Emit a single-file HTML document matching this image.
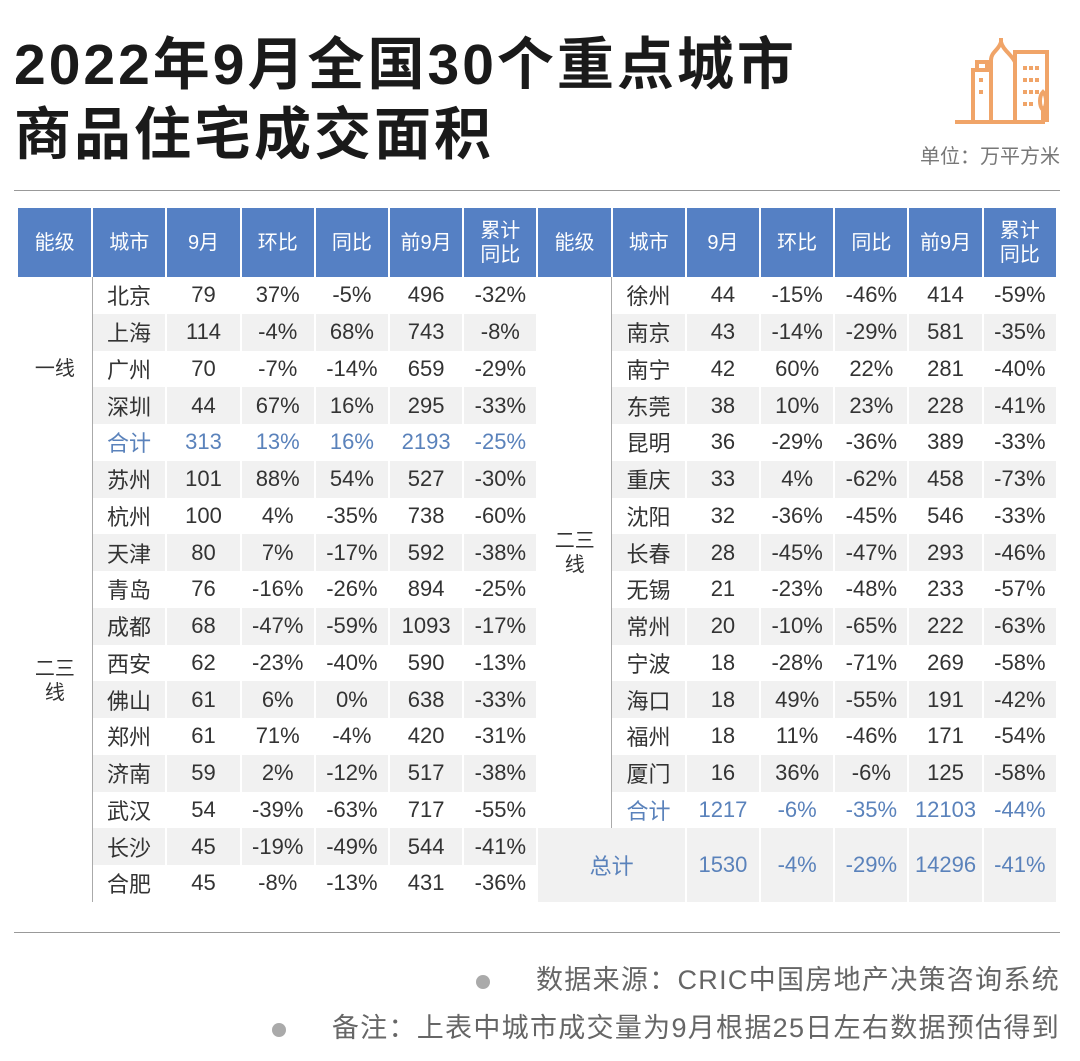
<!DOCTYPE html>
<html><head><meta charset="utf-8"><style>
body{margin:0;width:1080px;height:1061px;background:#fff;position:relative;overflow:hidden;font-family:"Liberation Sans","Noto Sans CJK SC",sans-serif;color:#333}
.t{position:absolute;left:14px;font-weight:bold;font-size:57px;color:#1a1a1a;letter-spacing:3px;line-height:70px}
.hr{position:absolute;left:14px;width:1046px;height:1px;background:#999}
table{position:absolute;left:18px;top:208px;border-collapse:collapse;table-layout:fixed;width:1040px}
td,th{padding:0;text-align:center;font-size:22px;font-weight:normal;height:36.75px;border-right:2px solid #fff;white-space:nowrap;overflow:hidden}
th{background:#5580c4;color:#fff;height:69px;font-size:20px;line-height:24px}
tr.g td.c{background:#f1f1f1}
td.l{border-right:1px solid #aaa;background:#fff;font-size:20px;line-height:24px}
td.b{color:#5a82bb}
td.tot{background:#f1f1f1;color:#5a82bb}
.f{position:absolute;right:20px;font-size:27px;color:#666;letter-spacing:1.3px}
.dot{display:inline-block;width:14px;height:14px;border-radius:7px;background:#aaa;margin-right:46px;vertical-align:middle}
</style></head><body>
<div class="t" style="top:30px">2022年9月全国30个重点城市</div>
<div class="t" style="top:100px">商品住宅成交面积</div>
<svg style="position:absolute;left:945px;top:30px" width="110" height="100" viewBox="0 0 110 100" fill="none" stroke="#f0a468" stroke-width="4">
<path d="M10 92H100"/><path d="M28 40h18v52H28z"/><path d="M36 48v4M36 60v4"/><path d="M32 40v-8h10v8"/><path d="M46 92V30c0-8 8-10 10-18 2 8 10 12 14 20v60"/><path d="M56 8v6"/><path d="M70 92V22h32v70"/><path d="M68 22h36"/><path d="M80 36v4M86 36v4M92 36v4M80 48v4M86 48v4M92 48v4M80 60v4M86 60v4M92 60v4M80 72v4M86 72v4"/><path d="M98 92V80M98 62c-4 4-4 14 0 18 4-4 4-14 0-18z"/>
</svg>
<div style="position:absolute;right:20px;top:140px;font-size:20px;color:#777">单位：万平方米</div>
<div class="hr" style="top:190px"></div>
<table>
<tr><th>能级</th><th>城市</th><th>9月</th><th>环比</th><th>同比</th><th>前9月</th><th>累计<br>同比</th><th>能级</th><th>城市</th><th>9月</th><th>环比</th><th>同比</th><th>前9月</th><th>累计<br>同比</th></tr>
<tr><td class="l" rowspan="5">一线</td><td class="c">北京</td><td class="c">79</td><td class="c">37%</td><td class="c">-5%</td><td class="c">496</td><td class="c">-32%</td><td class="l" rowspan="15">二三<br>线</td><td class="c">徐州</td><td class="c">44</td><td class="c">-15%</td><td class="c">-46%</td><td class="c">414</td><td class="c">-59%</td></tr>
<tr class="g"><td class="c">上海</td><td class="c">114</td><td class="c">-4%</td><td class="c">68%</td><td class="c">743</td><td class="c">-8%</td><td class="c">南京</td><td class="c">43</td><td class="c">-14%</td><td class="c">-29%</td><td class="c">581</td><td class="c">-35%</td></tr>
<tr><td class="c">广州</td><td class="c">70</td><td class="c">-7%</td><td class="c">-14%</td><td class="c">659</td><td class="c">-29%</td><td class="c">南宁</td><td class="c">42</td><td class="c">60%</td><td class="c">22%</td><td class="c">281</td><td class="c">-40%</td></tr>
<tr class="g"><td class="c">深圳</td><td class="c">44</td><td class="c">67%</td><td class="c">16%</td><td class="c">295</td><td class="c">-33%</td><td class="c">东莞</td><td class="c">38</td><td class="c">10%</td><td class="c">23%</td><td class="c">228</td><td class="c">-41%</td></tr>
<tr><td class="c b">合计</td><td class="c b">313</td><td class="c b">13%</td><td class="c b">16%</td><td class="c b">2193</td><td class="c b">-25%</td><td class="c">昆明</td><td class="c">36</td><td class="c">-29%</td><td class="c">-36%</td><td class="c">389</td><td class="c">-33%</td></tr>
<tr class="g"><td class="l" rowspan="12">二三<br>线</td><td class="c">苏州</td><td class="c">101</td><td class="c">88%</td><td class="c">54%</td><td class="c">527</td><td class="c">-30%</td><td class="c">重庆</td><td class="c">33</td><td class="c">4%</td><td class="c">-62%</td><td class="c">458</td><td class="c">-73%</td></tr>
<tr><td class="c">杭州</td><td class="c">100</td><td class="c">4%</td><td class="c">-35%</td><td class="c">738</td><td class="c">-60%</td><td class="c">沈阳</td><td class="c">32</td><td class="c">-36%</td><td class="c">-45%</td><td class="c">546</td><td class="c">-33%</td></tr>
<tr class="g"><td class="c">天津</td><td class="c">80</td><td class="c">7%</td><td class="c">-17%</td><td class="c">592</td><td class="c">-38%</td><td class="c">长春</td><td class="c">28</td><td class="c">-45%</td><td class="c">-47%</td><td class="c">293</td><td class="c">-46%</td></tr>
<tr><td class="c">青岛</td><td class="c">76</td><td class="c">-16%</td><td class="c">-26%</td><td class="c">894</td><td class="c">-25%</td><td class="c">无锡</td><td class="c">21</td><td class="c">-23%</td><td class="c">-48%</td><td class="c">233</td><td class="c">-57%</td></tr>
<tr class="g"><td class="c">成都</td><td class="c">68</td><td class="c">-47%</td><td class="c">-59%</td><td class="c">1093</td><td class="c">-17%</td><td class="c">常州</td><td class="c">20</td><td class="c">-10%</td><td class="c">-65%</td><td class="c">222</td><td class="c">-63%</td></tr>
<tr><td class="c">西安</td><td class="c">62</td><td class="c">-23%</td><td class="c">-40%</td><td class="c">590</td><td class="c">-13%</td><td class="c">宁波</td><td class="c">18</td><td class="c">-28%</td><td class="c">-71%</td><td class="c">269</td><td class="c">-58%</td></tr>
<tr class="g"><td class="c">佛山</td><td class="c">61</td><td class="c">6%</td><td class="c">0%</td><td class="c">638</td><td class="c">-33%</td><td class="c">海口</td><td class="c">18</td><td class="c">49%</td><td class="c">-55%</td><td class="c">191</td><td class="c">-42%</td></tr>
<tr><td class="c">郑州</td><td class="c">61</td><td class="c">71%</td><td class="c">-4%</td><td class="c">420</td><td class="c">-31%</td><td class="c">福州</td><td class="c">18</td><td class="c">11%</td><td class="c">-46%</td><td class="c">171</td><td class="c">-54%</td></tr>
<tr class="g"><td class="c">济南</td><td class="c">59</td><td class="c">2%</td><td class="c">-12%</td><td class="c">517</td><td class="c">-38%</td><td class="c">厦门</td><td class="c">16</td><td class="c">36%</td><td class="c">-6%</td><td class="c">125</td><td class="c">-58%</td></tr>
<tr><td class="c">武汉</td><td class="c">54</td><td class="c">-39%</td><td class="c">-63%</td><td class="c">717</td><td class="c">-55%</td><td class="c b">合计</td><td class="c b">1217</td><td class="c b">-6%</td><td class="c b">-35%</td><td class="c b">12103</td><td class="c b">-44%</td></tr>
<tr class="g"><td class="c">长沙</td><td class="c">45</td><td class="c">-19%</td><td class="c">-49%</td><td class="c">544</td><td class="c">-41%</td><td class="tot" colspan="2" rowspan="2">总计</td><td class="tot" rowspan="2">1530</td><td class="tot" rowspan="2">-4%</td><td class="tot" rowspan="2">-29%</td><td class="tot" rowspan="2">14296</td><td class="tot" rowspan="2">-41%</td></tr>
<tr><td class="c">合肥</td><td class="c">45</td><td class="c">-8%</td><td class="c">-13%</td><td class="c">431</td><td class="c">-36%</td></tr>
</table>
<div class="hr" style="top:932px"></div>
<div class="f" style="top:958px"><span class="dot"></span>数据来源：CRIC中国房地产决策咨询系统</div>
<div class="f" style="top:1006px"><span class="dot"></span>备注：上表中城市成交量为9月根据25日左右数据预估得到</div>
</body></html>
